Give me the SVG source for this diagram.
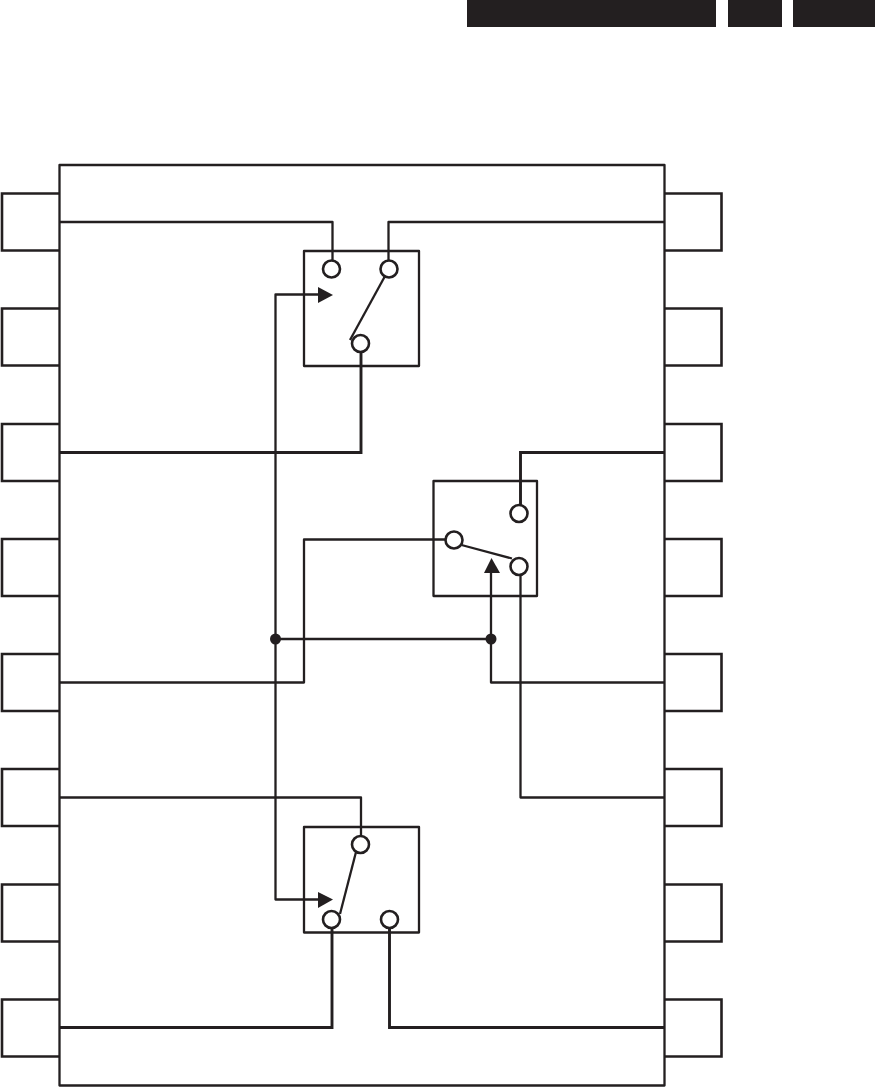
<svg xmlns="http://www.w3.org/2000/svg" width="875" height="1087" viewBox="0 0 875 1087">
<style>
.b{fill:#231f20;stroke:none}
.s{fill:none;stroke:#231f20;stroke-width:2.3;stroke-linejoin:round}
.p{fill:none;stroke:#231f20;stroke-width:2.6}
.t{fill:none;stroke:#231f20;stroke-width:2.9}
.c{fill:#fff;stroke:#231f20;stroke-width:2.6}
.d{fill:#231f20;stroke:none}
</style>
<rect width="875" height="1087" fill="#fff"/>
<g id="header">
<rect class="b" x="467" y="0" width="249" height="27"/>
<rect class="b" x="728" y="0" width="54" height="27"/>
<rect class="b" x="793" y="0" width="82" height="27"/>
</g>
<g id="ic-body"><rect class="s" x="59.500" y="165" width="605" height="920.500"/></g>
<g id="pins-left">
<path id="pin-l1" class="p" d="M59 193.500H2V250.500H59"/>
<path id="pin-l2" class="p" d="M59 308.500H2V365.500H59"/>
<path id="pin-l3" class="p" d="M59 424H2V481H59"/>
<path id="pin-l4" class="p" d="M59 539H2V596H59"/>
<path id="pin-l5" class="p" d="M59 654H2V711H59"/>
<path id="pin-l6" class="p" d="M59 769H2V826H59"/>
<path id="pin-l7" class="p" d="M59 884.500H2V941.500H59"/>
<path id="pin-l8" class="p" d="M59 999.500H2V1056.500H59"/>
</g>
<g id="pins-right">
<path id="pin-r1" class="p" d="M665 193.500H721.500V250.500H665"/>
<path id="pin-r2" class="p" d="M665 308.500H721.500V365.500H665"/>
<path id="pin-r3" class="p" d="M665 424H721.500V481H665"/>
<path id="pin-r4" class="p" d="M665 539H721.500V596H665"/>
<path id="pin-r5" class="p" d="M665 654H721.500V711H665"/>
<path id="pin-r6" class="p" d="M665 769H721.500V826H665"/>
<path id="pin-r7" class="p" d="M665 884.500H721.500V941.500H665"/>
<path id="pin-r8" class="p" d="M665 999.500H721.500V1056.500H665"/>
</g>
<g id="connectors">
<path class="s" d="M60 222H332.500V261"/>
<path class="s" d="M664 222H388.500V261"/>
<path class="t" d="M60 452.500H361V351"/>
<path class="t" d="M664 452.500H520.500V506"/>
<path class="s" d="M60 682.500H304V539.500H446"/>
<path class="s" d="M664 682.500H491V572"/>
<path class="s" d="M520.500 574V797.500H664"/>
<path class="s" d="M60 797.500H361V837"/>
<path class="t" d="M60 1027.500H332V928"/>
<path class="t" d="M664 1027.500H389.500V928"/>
<path class="s" d="M318 294.500H275.500V899.500H318"/>
<path class="s" d="M275.500 639H491"/>
<path class="s" d="M350 340L384.500 277"/>
<path class="s" d="M461.500 545L512 558.500"/>
<path class="s" d="M340 914L356 852"/>
</g>
<g id="arrowheads">
<polygon class="d" points="318,287 333,295 318,303"/>
<polygon class="d" points="484,573 491.500,558 500,573"/>
<polygon class="d" points="318,892 333,899.500 318,908"/>
<circle class="d" cx="275.500" cy="639" r="5.500"/>
<circle class="d" cx="491" cy="639" r="5.500"/>
</g>
<g id="switch-1">
<rect class="s" x="304" y="251" width="115" height="115"/>
<circle class="c" cx="331.500" cy="269" r="8.500"/>
<circle class="c" cx="389" cy="269" r="8.500"/>
<circle class="c" cx="360.500" cy="343.500" r="8.500"/>
</g>
<g id="switch-2">
<rect class="s" x="433.500" y="481" width="103.500" height="115"/>
<circle class="c" cx="519" cy="513.500" r="8.500"/>
<circle class="c" cx="454" cy="540" r="8.500"/>
<circle class="c" cx="519" cy="566.500" r="8.500"/>
</g>
<g id="switch-3">
<rect class="s" x="304" y="827" width="115" height="105.500"/>
<circle class="c" cx="360.500" cy="844.500" r="8.500"/>
<circle class="c" cx="331.500" cy="919.500" r="8.500"/>
<circle class="c" cx="389.500" cy="919.500" r="8.500"/>
</g>
</svg>
